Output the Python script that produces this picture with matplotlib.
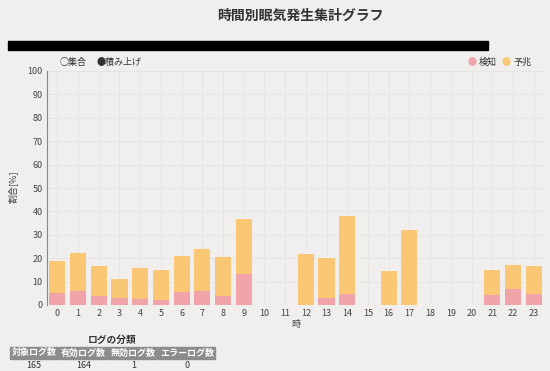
import numpy as np
import matplotlib
matplotlib.use('Agg')
import matplotlib.pyplot as plt

plt.rcParams['font.family'] = ['Noto Sans CJK JP', 'DejaVu Sans']

# data
hours = list(range(24))
detect = [5.0, 6.1, 4.0, 3.1, 2.4, 2.0, 5.4, 5.9, 4.0, 13.3,
          0, 0, 0, 2.9, 4.9, 0, 0, 0, 0, 0, 0, 4.3, 6.9, 4.9]
total = [18.9, 22.1, 16.6, 10.9, 15.7, 15.1, 21.0, 23.9, 20.7, 36.7,
         0, 0, 21.7, 20.1, 38.1, 0, 14.6, 32.1, 0, 0, 0, 14.9, 16.9, 16.6]
sign = [t - d for t, d in zip(total, detect)]

table_headers = ['対象ログ数', '有効ログ数', '無効ログ数', 'エラーログ数']
table_values = ['165', '164', '1', '0']

bg = '#f0efed'
pink = '#f0a3a9'
yellow = '#fac874'

fig = plt.figure(figsize=(5.5, 3.71), dpi=100, facecolor=bg)
ax = fig.add_axes([47 / 550, 66 / 371, 497 / 550, 234 / 371], facecolor=bg)

ax.bar(hours, detect, width=0.78, color=pink, zorder=3)
ax.bar(hours, sign, width=0.78, bottom=detect, color=yellow, zorder=3)

ax.set_xlim(-0.5, 23.5)
ax.set_ylim(0, 100)
ax.set_yticks(range(0, 101, 10))
ax.set_xticks(hours)
ax.grid(True, color='#e6e4e2', linewidth=0.6, zorder=0)
for s in ['top', 'right', 'bottom']:
    ax.spines[s].set_visible(False)
ax.spines['left'].set_color('#888888')
ax.tick_params(axis='both', length=0, labelsize=6.5, colors='#444444', pad=3)
ax.set_xlabel('時', fontsize=6.5, color='#444444', labelpad=1)
fig.text(13 / 550, 1 - 187 / 371, '割合[%]', rotation=90, ha='center', va='center',
         fontsize=6.5, color='#444444')

# title and black bar
fig.text(0.547, 0.958, '時間別眠気発生集計グラフ', ha='center', va='center',
         fontsize=10, fontweight='bold', color='#333333')
fig.patches.append(plt.Rectangle((8 / 550, 1 - 50 / 371), 480 / 550, 9 / 371,
                                 transform=fig.transFigure, color='black'))

# legends
ly = 1 - 62 / 371
fig.text(60 / 550, ly, '○集合', ha='left', va='center', fontsize=6.5, color='#333333')
fig.text(96 / 550, ly, '●積み上げ', ha='left', va='center', fontsize=6.5, color='#333333')
fig.text(467 / 550, ly, '●', ha='left', va='center', fontsize=6.5, color=pink)
fig.text(479 / 550, ly, '検知', ha='left', va='center', fontsize=6.5, color='#333333')
fig.text(502 / 550, ly, '●', ha='left', va='center', fontsize=6.5, color=yellow)
fig.text(514 / 550, ly, '予兆', ha='left', va='center', fontsize=6.5, color='#333333')

# log table
fig.text(112 / 550, 1 - 340 / 371, 'ログの分類', ha='center', va='center',
         fontsize=7, fontweight='bold', color='#333333')
edges = [10, 59, 109, 159, 216]
for i, (h, v) in enumerate(zip(table_headers, table_values)):
    x0, x1 = edges[i], edges[i + 1] - 1
    fig.patches.append(plt.Rectangle((x0 / 550, 1 - 359 / 371), (x1 - x0) / 550, 12 / 371,
                                     transform=fig.transFigure, color='#8c8c8c'))
    xc = (x0 + x1) / 2 / 550
    fig.text(xc, 1 - 353 / 371, h, ha='center', va='center', fontsize=6.5,
             fontweight='bold', color='white')
    fig.text(xc, 1 - 365 / 371, v, ha='center', va='center', fontsize=6.5, color='#333333')

fig.savefig('out.png', dpi=100, facecolor=bg)
